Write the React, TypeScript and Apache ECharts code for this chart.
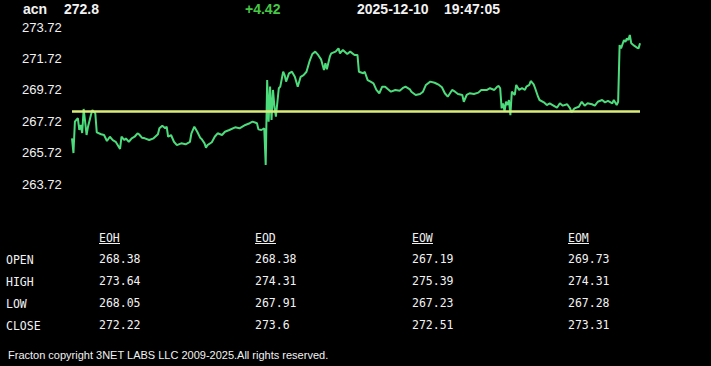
import React, { useEffect, useRef } from "react";
import * as echarts from "echarts";

// ---- data ----
const symbol = "acn";
const lastPrice = "272.8";
const change = "+4.42";
const dateText = "2025-12-10";
const timeText = "19:47:05";
const footerText = "Fracton copyright 3NET LABS LLC 2009-2025.All rights reserved.";

const yMin = 263.72;
const yMax = 273.72;
const yStep = 2;
const refLine = 268.38; // open (EOH / EOD)

// minute offsets in the session
const minutes = [
  0, 1, 2, 4, 5, 6, 7, 8, 9, 10, 11, 13, 14, 16, 17, 20, 22, 24, 26, 28,
  30, 33, 34, 36, 37, 39, 41, 43, 45, 46, 48, 50, 53, 56, 59, 60, 62, 64, 65, 66,
  68, 70, 72, 75, 78, 81, 82, 84, 86, 88, 89, 91, 92, 93, 96, 98, 100, 103, 105, 108,
  112, 115, 119, 122, 124, 127, 128, 130, 132, 133, 134, 135, 136, 137, 138, 139, 140, 142, 143, 145,
  146, 147, 149, 151, 153, 155, 157, 159, 161, 163, 165, 167, 169, 171, 173, 174, 175, 177, 178, 181,
  183, 184, 186, 189, 191, 194, 196, 197, 200, 201, 203, 205, 207, 209, 211, 213, 215, 217, 219, 222,
  225, 227, 229, 232, 233, 236, 239, 241, 243, 246, 249, 252, 254, 256, 258, 261, 263, 265, 268, 269,
  271, 273, 276, 279, 281, 285, 287, 290, 292, 293, 294, 295, 296, 297, 298, 299, 300, 301, 302, 304,
  305, 307, 309, 311, 312, 314, 315, 317, 318, 320, 321, 324, 326, 328, 330, 333, 335, 337, 340, 342,
  343, 345, 348, 350, 352, 354, 357, 359, 361, 364, 366, 368, 371, 372, 374, 375, 376, 377, 379, 380,
  381, 382, 383, 384, 386, 388, 389, 390,
];

const prices = [
  266.63, 265.69, 267.69, 267.92, 267.16, 267.48, 266.97, 268.5, 267.69, 266.84, 267.37, 268.11, 268.43, 268.22, 267.01, 266.89, 266.84, 266.46, 266.73, 266.52,
  266.41, 265.95, 266.73, 266.52, 266.63, 266.41, 266.63, 266.73, 266.95, 266.89, 266.67, 266.63, 266.52, 266.63, 266.89, 267.27, 267.43, 267.27, 267.37, 266.73,
  266.84, 266.41, 266.2, 266.31, 266.25, 266.41, 266.95, 267.37, 267.05, 266.67, 266.59, 266.31, 266.03, 266.2, 266.38, 266.73, 266.95, 266.84, 267.05, 267.16,
  267.33, 267.27, 267.48, 267.59, 267.69, 267.59, 267.2, 267.16, 267.27, 264.93, 270.34, 267.69, 269.92, 267.8, 269.71, 268.64, 268.01, 269.82, 269.92, 270.87,
  270.66, 270.24, 270.77, 270.87, 270.55, 269.92, 270.55, 270.66, 270.87, 271.51, 272.0, 272.15, 271.94, 271.66, 270.98, 271.41, 271.03, 271.83, 272.04, 272.15,
  272.36, 272.04, 272.26, 272.0, 272.15, 271.94, 271.94, 270.87, 270.77, 270.87, 270.34, 270.24, 270.13, 269.71, 269.5, 269.92, 269.92, 269.75, 269.6, 269.71,
  269.66, 269.82, 269.92, 269.75, 269.6, 269.39, 269.45, 269.6, 270.03, 270.24, 270.17, 270.03, 269.88, 269.5, 269.28, 269.71, 269.6, 269.45, 269.39, 268.96,
  269.39, 269.5, 269.45, 269.54, 269.71, 269.71, 269.82, 269.71, 269.92, 269.96, 269.82, 268.54, 268.86, 268.33, 268.96, 268.75, 269.07, 268.11, 269.6, 269.39,
  270.03, 269.71, 269.82, 269.71, 269.92, 270.03, 270.28, 270.07, 269.82, 269.28, 269.07, 268.92, 268.75, 268.86, 268.75, 268.58, 268.86, 268.71, 268.8, 268.54,
  268.29, 268.54, 268.64, 268.96, 268.71, 268.86, 268.8, 268.71, 268.96, 269.07, 268.92, 269.01, 268.86, 269.07, 268.75, 268.96, 272.57, 272.36, 272.89, 272.78,
  273.0, 272.89, 273.21, 272.68, 272.53, 272.4, 272.36, 272.68,
];

const tableCols = ["EOH", "EOD", "EOW", "EOM"];
const rowLabels = ["OPEN", "HIGH", "LOW", "CLOSE"];
const eohValues = [268.38, 273.64, 268.05, 272.22];
const eodValues = [268.38, 274.31, 267.91, 273.6];
const eowValues = [267.19, 275.39, 267.23, 272.51];
const eomValues = [269.73, 274.31, 267.28, 273.31];

// ---- layout / style ----
const W = 711;
const H = 366;
const GREEN = "#4ddc7c";
const YELLOW = "#dcec7a";
const WHITE = "#f2f2f2";
const SANS = "Liberation Sans, Arial, sans-serif";
const MONO = "DejaVu Sans Mono, monospace";

export default function App() {
  const ref = useRef<HTMLDivElement>(null);

  useEffect(() => {
    if (!ref.current) return;
    const chart = echarts.init(ref.current, undefined, { renderer: "svg" });

    const seriesData = minutes.map((m, i) => [m, prices[i]]);
    const colValues = [eohValues, eodValues, eowValues, eomValues];
    const colX = [99, 255, 412, 568];
    const headerY = 238;
    const rowY = [259, 281, 303, 325];

    const txt = (text: string, x: number, y: number, font: string, fill = WHITE) => ({
      type: "text",
      silent: true,
      style: {
        text,
        x,
        y,
        fill,
        font,
        align: "left",
        verticalAlign: "middle",
        textAlign: "left",
        textVerticalAlign: "middle",
      },
    });

    const graphics: any[] = [
      txt(symbol, 23, 9, `bold 14px ${SANS}`),
      txt(lastPrice, 64, 9, `bold 14px ${SANS}`),
      txt(change, 245, 9, `bold 14px ${SANS}`, "#46c846"),
      txt(dateText, 357, 9, `bold 14px ${SANS}`),
      txt(timeText, 444, 9, `bold 14px ${SANS}`),
      txt(footerText, 8, 355, `11px ${SANS}`),
    ];

    tableCols.forEach((c, ci) => {
      graphics.push(txt(c, colX[ci], headerY, `11.5px ${MONO}`));
      graphics.push({
        type: "line",
        silent: true,
        shape: { x1: colX[ci], y1: 243.5, x2: colX[ci] + 21, y2: 243.5 },
        style: { stroke: WHITE, lineWidth: 1 },
      });
      colValues[ci].forEach((v, ri) => {
        graphics.push(txt(String(v), colX[ci], rowY[ri], `11.5px ${MONO}`));
      });
    });
    rowLabels.forEach((r, ri) => {
      graphics.push(txt(r, 6, rowY[ri] + 1, `11.5px ${MONO}`));
    });

    chart.setOption({
      animation: false,
      backgroundColor: "#000000",
      grid: { left: 72, right: 71, top: 27, bottom: H - 184 },
      xAxis: {
        type: "value",
        min: 0,
        max: 390,
        show: false,
      },
      yAxis: {
        type: "value",
        min: yMin,
        max: yMax,
        interval: yStep,
        axisLine: { show: false },
        axisTick: { show: false },
        splitLine: { show: false },
        axisLabel: {
          color: WHITE,
          fontFamily: SANS,
          fontSize: 13,
          align: "left",
          margin: 50,
          formatter: (v: number) => v.toFixed(2),
        },
      },
      series: [
        {
          type: "line",
          data: seriesData,
          showSymbol: false,
          symbol: "none",
          lineStyle: { color: GREEN, width: 2 },
          silent: true,
          markLine: {
            silent: true,
            symbol: "none",
            label: { show: false },
            lineStyle: { color: YELLOW, width: 2.5, type: "solid" },
            data: [{ yAxis: refLine }],
          },
        },
      ],
      graphic: graphics,
    });

    return () => chart.dispose();
  }, []);

  return (
    <div
      ref={ref}
      style={{ position: "fixed", left: 0, top: 0, width: W, height: H, background: "#000" }}
    />
  );
}
